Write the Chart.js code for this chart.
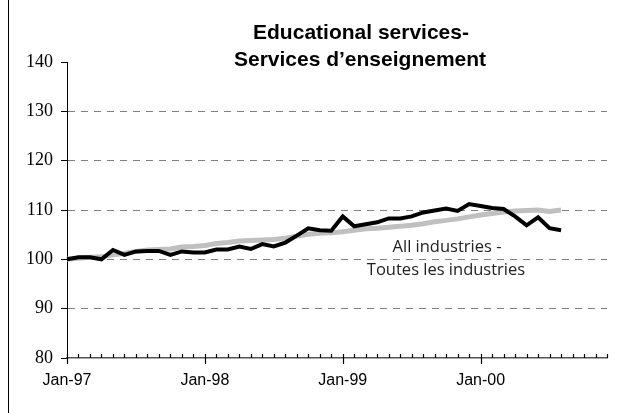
<!DOCTYPE html>
<html>
<head>
<meta charset="utf-8">
<script src="https://cdn.jsdelivr.net/npm/chart.js@4"></script>
<style>
  html, body { margin: 0; padding: 0; background: #fff; }
  #wrap { width: 642px; height: 413px; position: relative; }
</style>
</head>
<body>
<div id="wrap"><canvas id="c"></canvas></div>
<script>
// ---- data ----
const monthNames = ['Jan','Feb','Mar','Apr','May','Jun','Jul','Aug','Sep','Oct','Nov','Dec'];
const years = ['97','98','99','00'];
const categories = [];
years.forEach(y => monthNames.forEach(m => categories.push(m + '-' + y)));

const educationValues = [
  100.0, 100.4, 100.4, 100.0, 101.9, 100.9, 101.6, 101.7, 101.7, 100.9, 101.6, 101.4,
  101.4, 102.0, 102.0, 102.6, 102.1, 103.1, 102.6, 103.4, 104.8, 106.3, 105.9, 105.8,
  108.7, 106.7, 107.1, 107.5, 108.3, 108.3, 108.7, 109.5, 109.9, 110.3, 109.8, 111.2,
  110.8, 110.4, 110.2, 108.7, 106.9, 108.5, 106.3, 105.9
];
const allIndustriesValues = [
  100.0, 100.2, 100.4, 100.5, 100.9, 101.2, 101.6, 101.9, 102.0, 102.1, 102.5, 102.6,
  102.8, 103.2, 103.4, 103.7, 103.8, 103.9, 104.0, 104.3, 104.7, 105.1, 105.3, 105.4,
  105.6, 105.9, 106.2, 106.3, 106.5, 106.7, 106.9, 107.2, 107.6, 107.9, 108.2, 108.6,
  109.0, 109.3, 109.6, 109.8, 109.9, 110.0, 109.7, 110.0
];
const yTicks = [80, 90, 100, 110, 120, 130, 140];
const titleLines = ['Educational services-', 'Services d\u2019enseignement'];
const noteLines = ['All industries -', 'Toutes les industries'];

// ---- plugin for title, annotation, frame and x tick marks ----
const decor = {
  id: 'decor',
  afterDraw(chart) {
    const ctx = chart.ctx;
    const xs = chart.scales.x, ys = chart.scales.y;
    ctx.save();
    // frame line on left
    ctx.strokeStyle = '#000';
    ctx.lineWidth = 1;
    ctx.beginPath();
    ctx.moveTo(8.5, 0); ctx.lineTo(8.5, 413);
    ctx.stroke();
    // x tick marks
    const axisY = ys.getPixelForValue(80);
    ctx.strokeStyle = '#000';
    ctx.lineWidth = 1.2;
    for (let i = 0; i < categories.length; i++) {
      const x = Math.round(xs.getPixelForValue(i)) + 0.5;
      ctx.beginPath();
      if (i % 12 === 0) {
        ctx.moveTo(x, axisY - 4); ctx.lineTo(x, axisY + 6);
      } else {
        ctx.moveTo(x, axisY - 4); ctx.lineTo(x, axisY);
      }
      ctx.stroke();
    }
    // title
    ctx.fillStyle = '#000';
    ctx.font = 'bold 21px "Liberation Sans", Arial, sans-serif';
    ctx.textAlign = 'center';
    ctx.textBaseline = 'middle';
    ctx.fillText(titleLines[0], 361, 33);
    ctx.fillText(titleLines[1], 360, 60);
    // annotation
    ctx.fillStyle = '#222';
    ctx.font = '16.5px "Open Sans", sans-serif';
    ctx.fillText(noteLines[0], 447, 247);
    ctx.fillText(noteLines[1], 446, 270);
    ctx.restore();
  }
};

new Chart(document.getElementById('c'), {
  type: 'line',
  data: {
    labels: categories,
    datasets: [
      {
        label: 'Educational services',
        data: educationValues,
        borderColor: '#000',
        borderWidth: 4,
        pointRadius: 0,
        tension: 0,
        fill: false,
        order: 0
      },
      {
        label: 'All industries',
        data: allIndustriesValues,
        borderColor: '#c0c0c0',
        borderWidth: 5,
        pointRadius: 0,
        tension: 0,
        fill: false,
        order: 1
      }
    ]
  },
  options: {
    responsive: true,
    maintainAspectRatio: false,
    animation: false,
    layout: { padding: { top: 62, right: 35, bottom: 15, left: 0 } },
    plugins: {
      legend: { display: false },
      title: { display: false },
      tooltip: { enabled: false }
    },
    scales: {
      x: {
        type: 'category',
        offset: false,
        grid: { display: false, drawTicks: false },
        border: { display: true, color: '#555', width: 1.5 },
        ticks: {
          autoSkip: false,
          maxRotation: 0,
          padding: 13,
          color: '#000',
          font: { family: '"Liberation Sans", Arial, sans-serif', size: 16 },
          callback: function(v, i) { return i % 12 === 0 ? categories[i] : ''; }
        },
        afterFit(s) { s.height = 40; }
      },
      y: {
        min: 80,
        max: 140,
        afterBuildTicks(s) { s.ticks = yTicks.map(v => ({ value: v })); },
        grid: {
          color: ctx => (ctx.tick && (ctx.tick.value === 80 || ctx.tick.value === 140)) ? 'rgba(0,0,0,0)' : '#808080',
          lineWidth: 1,
          tickColor: '#000',
          tickLength: 6,
          tickBorderDash: []
        },
        border: { display: true, color: '#000', width: 1, dash: [7, 6] },
        ticks: {
          padding: 8,
          color: '#000',
          font: { family: '"Liberation Serif", "Times New Roman", serif', size: 18 }
        },
        afterFit(s) { s.width = 67; }
      }
    }
  },
  plugins: [decor]
});
</script>
</body>
</html>
